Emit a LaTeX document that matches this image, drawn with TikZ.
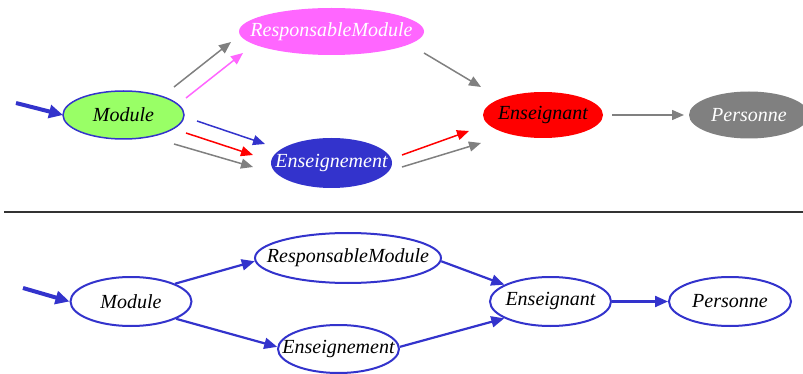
\documentclass[tikz,border=0pt]{standalone}
\usepackage{fontspec}
\setmainfont{Liberation Serif}
\usepackage{xcolor}
\usepackage{tikz}
\usetikzlibrary{positioning,shapes.geometric,arrows.meta}
\definecolor{dotblue}{HTML}{3333CC}
\definecolor{dotgreen}{HTML}{99FF66}
\definecolor{dotpink}{HTML}{FF66FF}
\definecolor{dotred}{HTML}{FF0000}
\definecolor{dotgrey}{HTML}{808080}
\newcommand{\lbl}[1]{\makebox[0pt]{#1}}

\begin{document}
\begin{tikzpicture}[
        x=1pt, y=-1pt,
        entity/.style={
            ellipse,
            inner sep=0pt,
            minimum width=121pt,
            minimum height=48pt,
            font=\fontsize{20}{24}\selectfont\rmfamily\itshape
        },
        plain/.style={
            entity,
            draw=dotblue,
            line width=2pt
        },
        rel/.style={
            -{Triangle[length=12pt,width=10pt]},
            line width=1.5pt
        },
        edge/.style={
            -{Triangle[length=13pt,width=11pt]},
            line width=2.2pt,
            dotblue
        },
        entry/.style={
            -{Triangle[length=14pt,width=13pt]},
            line width=4pt,
            dotblue
        }
    ]
    \useasboundingbox (0,0) rectangle (803,374);

    % coloured graph
    \node[entity, fill=dotgreen, draw=dotblue, line width=1.5pt] (mod1) at (123.5,115) {\lbl{Module}};
    \node[entity, fill=dotpink, text=white, minimum width=185pt, minimum height=47pt] (resp1) at (331.5,31.5) {\lbl{ResponsableModule}};
    \node[entity, fill=dotblue, text=white, minimum height=50pt] (ens1) at (331.5,163) {\lbl{Enseignement}};
    \node[entity, fill=dotred, minimum width=120pt, minimum height=46pt] (prof1) at (543,115) {\lbl{Enseignant}};
    \node[entity, fill=dotgrey, text=white, minimum width=120pt, minimum height=47pt] (pers1) at (749,115) {\lbl{Personne}};

    \coordinate (in1) at (16,103);  \coordinate (in1e) at (63,115);
    \coordinate (ga) at (174,87);   \coordinate (gae) at (231,42);
    \coordinate (pa) at (186,98);   \coordinate (pae) at (243,53);
    \coordinate (ba) at (197,121);  \coordinate (bae) at (265,144);
    \coordinate (ra) at (186,133);  \coordinate (rae) at (253,155);
    \coordinate (gb) at (174,144);  \coordinate (gbe) at (253,167);
    \coordinate (gc) at (424,53);   \coordinate (gce) at (481,87);
    \coordinate (rb) at (402,155);  \coordinate (rbe) at (469,131);
    \coordinate (gd) at (402,167);  \coordinate (gde) at (481,143);
    \coordinate (ge) at (612,115);  \coordinate (gee) at (684,115);

    \draw[entry] (in1) -- (in1e);
    \foreach \a/\c in {ga/dotgrey, pa/dotpink, ba/dotblue, ra/dotred,
                       gb/dotgrey, gc/dotgrey, rb/dotred, gd/dotgrey, ge/dotgrey}
        \draw[rel, \c] (\a) -- (\a e);

    % separator
    \draw[line width=1.5pt, black!80] (4,212) -- (803,212);

    % plain graph
    \node[plain, minimum height=49pt] (mod2) at (131,301.5) {\lbl{Module}};
    \node[plain, minimum width=186pt, minimum height=50pt] (resp2) at (348,258) {\lbl{ResponsableModule}};
    \node[plain] (ens2) at (338.5,349) {\lbl{Enseignement}};
    \node[plain, minimum height=49pt] (prof2) at (550.5,301.5) {\lbl{Enseignant}};
    \node[plain, minimum width=122pt, minimum height=49pt] (pers2) at (730,301.5) {\lbl{Personne}};

    \coordinate (in2) at (23,288);
    \draw[entry] (in2) -- (mod2.west);
    \draw[edge] (mod2.22) -- (resp2.182);
    \draw[edge] (mod2.-21) -- (ens2.178);
    \draw[edge] (resp2.-2) -- (prof2.160);
    \draw[edge] (ens2.2) -- (prof2.200);
    \draw[edge] (prof2.east) -- (pers2.west);

\end{tikzpicture}
\end{document}
